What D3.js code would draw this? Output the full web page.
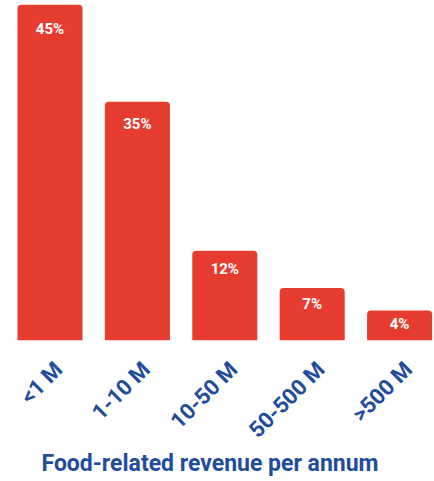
<!DOCTYPE html>
<html><head><meta charset="utf-8">
<script src="https://cdn.jsdelivr.net/npm/d3@7/dist/d3.min.js"></script>
<style>body{margin:0;background:#fff}svg{display:block}</style>
</head><body>
<script>
const categories = ["<1 M", "1-10 M", "10-50 M", "50-500 M", ">500 M"];
const values = [45, 32, 12, 7, 4];
const valueLabels = ["45%", "35%", "12%", "7%", "4%"];
const axisTitle = "Food-related revenue per annum";

(function () {
const W = 434, H = 481;
const svg = d3.select("body").append("svg").attr("width", W).attr("height", H);
const base = 340.3, yTop = 4.7;
const x = d3.scaleBand().domain(categories).range([6.3, 443.3]).paddingInner(0.256).paddingOuter(0.128);
const y = d3.scaleLinear().domain([0, 45]).range([base, yTop]);
const red = "#e63c2f", blue = "#1f4c9b";

const r = 4;
function barPath(x0, y0, w, h) {
  return `M${x0},${y0 + h}V${y0 + r}Q${x0},${y0} ${x0 + r},${y0}H${x0 + w - r}Q${x0 + w},${y0} ${x0 + w},${y0 + r}V${y0 + h}Z`;
}
const data = categories.map((c, i) => ({c, v: values[i], l: valueLabels[i]}));
svg.selectAll("path.bar").data(data).join("path").attr("class", "bar")
  .attr("d", d => barPath(x(d.c), y(d.v), x.bandwidth(), base - y(d.v)))
  .attr("fill", red);

svg.selectAll("text.val").data(data).join("text").attr("class", "val")
  .attr("x", d => x(d.c) + x.bandwidth() / 2)
  .attr("y", d => { const h = base - y(d.v); return y(d.v) + 4.9 + 4.15 * Math.log(h); })
  .attr("text-anchor", "middle").attr("fill", "#fff")
  .attr("font-family", "Roboto, sans-serif").attr("font-weight", 700).attr("font-size", 15)
  .text(d => d.l);

const xAxis = d3.axisBottom(x).tickSize(0).tickPadding(0);
const g = svg.append("g").attr("transform", `translate(0,${base})`).call(xAxis);
g.select(".domain").remove();
g.selectAll("text")
  .attr("font-family", "Roboto, sans-serif").attr("font-weight", 700).attr("font-size", 22)
  .attr("fill", blue).attr("text-anchor", "end")
  .attr("dy", 0).attr("y", 0)
  .attr("transform", "translate(14,30.5) rotate(-45)");

svg.append("text").attr("x", 210).attr("y", 471).attr("text-anchor", "middle")
  .attr("font-family", "Roboto, sans-serif").attr("font-weight", 700).attr("font-size", 23)
  .attr("fill", blue).text(axisTitle);
})();
</script>
</body></html>
